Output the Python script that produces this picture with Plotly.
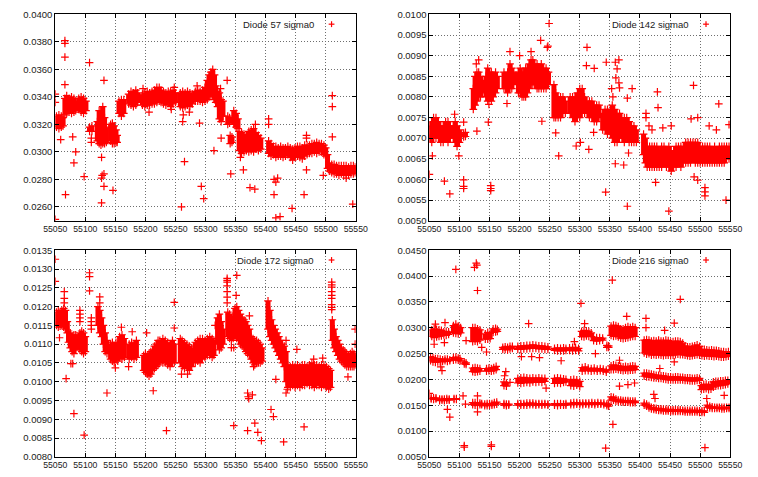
import plotly.graph_objects as go

# ---------------- data ----------------
x_ticks = [55050, 55100, 55150, 55200, 55250, 55300, 55350, 55400, 55450, 55500, 55550]

# Diode 57: dense daily ranges (day, low, high) and isolated points (day, value)
d57_bands = [
    (55052, 0.0318, 0.0326), (55056, 0.0317, 0.0327), (55060, 0.0318, 0.0326), (55063, 0.0319, 0.0325),
    (55066, 0.0327, 0.0339), (55069, 0.0328, 0.0341), (55073, 0.0329, 0.0339), (55077, 0.0328, 0.0340),
    (55081, 0.0329, 0.0339), (55084, 0.0330, 0.0337),
    (55089, 0.0331, 0.0339), (55093, 0.0329, 0.0340), (55097, 0.0328, 0.0339), (55101, 0.0330, 0.0337),
    (55107, 0.0315, 0.0318), (55111, 0.0315, 0.0319),
    (55120, 0.0308, 0.0322), (55123, 0.0306, 0.0330), (55126, 0.0305, 0.0330), (55129, 0.0306, 0.0333),
    (55132, 0.0306, 0.0325), (55135, 0.0307, 0.0318),
    (55142, 0.0308, 0.0320), (55145, 0.0306, 0.0321), (55148, 0.0306, 0.0319), (55151, 0.0307, 0.0316),
    (55153, 0.0307, 0.0312),
    (55156, 0.0328, 0.0337), (55160, 0.0326, 0.0338), (55164, 0.0328, 0.0338),
    (55172, 0.0335, 0.0342), (55176, 0.0334, 0.0344), (55180, 0.0333, 0.0343), (55184, 0.0334, 0.0345),
    (55187, 0.0336, 0.0343),
    (55195, 0.0334, 0.0342), (55199, 0.0333, 0.0343), (55203, 0.0334, 0.0344), (55207, 0.0334, 0.0343),
    (55211, 0.0335, 0.0344), (55215, 0.0335, 0.0345), (55219, 0.0336, 0.0347), (55223, 0.0337, 0.0347),
    (55226, 0.0336, 0.0345),
    (55230, 0.0335, 0.0344), (55234, 0.0334, 0.0343), (55238, 0.0336, 0.0344), (55242, 0.0333, 0.0344),
    (55246, 0.0335, 0.0345), (55250, 0.0336, 0.0343),
    (55258, 0.0333, 0.0343), (55262, 0.0332, 0.0344), (55266, 0.0333, 0.0343), (55270, 0.0334, 0.0344),
    (55274, 0.0333, 0.0343), (55278, 0.0335, 0.0342),
    (55283, 0.0337, 0.0344), (55287, 0.0337, 0.0345), (55291, 0.0337, 0.0344), (55295, 0.0336, 0.0345),
    (55299, 0.0337, 0.0347),
    (55303, 0.0338, 0.0352), (55306, 0.0340, 0.0356), (55309, 0.0341, 0.0358), (55312, 0.0342, 0.0360),
    (55315, 0.0338, 0.0356), (55317, 0.0336, 0.0348),
    (55320, 0.0333, 0.0344), (55323, 0.0324, 0.0343), (55326, 0.0322, 0.0338), (55329, 0.0326, 0.0337),
    (55337, 0.0320, 0.0326), (55340, 0.0321, 0.0325),
    (55341, 0.0306, 0.0312), (55344, 0.0307, 0.0311),
    (55347, 0.0320, 0.0330), (55351, 0.0318, 0.0328), (55354, 0.0317, 0.0324),
    (55356, 0.0301, 0.0315), (55360, 0.0299, 0.0314), (55364, 0.0300, 0.0313), (55368, 0.0301, 0.0312),
    (55372, 0.0300, 0.0315), (55376, 0.0301, 0.0316), (55380, 0.0300, 0.0317), (55384, 0.0302, 0.0314),
    (55388, 0.0301, 0.0312), (55392, 0.0302, 0.0310),
    (55405, 0.0299, 0.0308), (55409, 0.0297, 0.0306), (55413, 0.0298, 0.0304), (55417, 0.0296, 0.0304),
    (55421, 0.0297, 0.0303), (55425, 0.0297, 0.0304), (55429, 0.0296, 0.0303), (55433, 0.0297, 0.0303),
    (55437, 0.0298, 0.0304), (55441, 0.0296, 0.0303), (55445, 0.0294, 0.0302), (55449, 0.0296, 0.0303),
    (55453, 0.0297, 0.0304), (55457, 0.0296, 0.0304), (55461, 0.0295, 0.0303), (55465, 0.0297, 0.0305),
    (55469, 0.0298, 0.0305), (55473, 0.0299, 0.0305), (55477, 0.0299, 0.0306), (55481, 0.0300, 0.0306),
    (55485, 0.0299, 0.0307), (55489, 0.0300, 0.0306), (55493, 0.0300, 0.0306), (55497, 0.0298, 0.0305),
    (55500, 0.0297, 0.0303),
    (55503, 0.0288, 0.0298), (55506, 0.0286, 0.0292), (55510, 0.0285, 0.0291), (55514, 0.0284, 0.0291),
    (55518, 0.0284, 0.0290), (55522, 0.0283, 0.0290), (55526, 0.0284, 0.0290), (55530, 0.0283, 0.0290),
    (55534, 0.0284, 0.0290), (55538, 0.0283, 0.0289), (55542, 0.0284, 0.0290), (55546, 0.0284, 0.0290),
    (55549, 0.0285, 0.0289),
]
d57_points = [
    (55050, 0.0342), (55050, 0.0336), (55050, 0.0251), (55066, 0.0381), (55066, 0.0379), (55066, 0.0369),
    (55066, 0.0349), (55067, 0.0269), (55059, 0.0309), (55079, 0.0311), (55084, 0.0300), (55081, 0.0292),
    (55098, 0.0282), (55107, 0.0365), (55110, 0.0310), (55110, 0.0307), (55131, 0.0352), (55127, 0.0296),
    (55128, 0.0283), (55131, 0.0284), (55127, 0.0281), (55131, 0.0275), (55127, 0.0263), (55146, 0.0272),
    (55196, 0.0346), (55206, 0.0329), (55243, 0.0331), (55248, 0.0347), (55263, 0.0327), (55262, 0.0322),
    (55273, 0.0329), (55265, 0.0293), (55286, 0.0348), (55290, 0.0321), (55293, 0.0275), (55297, 0.0266),
    (55260, 0.0260), (55336, 0.0352), (55325, 0.0346), (55326, 0.0310), (55314, 0.0301), (55342, 0.0284),
    (55363, 0.0287), (55374, 0.0274), (55382, 0.0273), (55358, 0.0296), (55383, 0.0320), (55405, 0.0324),
    (55405, 0.0320), (55414, 0.0280), (55417, 0.0278), (55414, 0.0269), (55417, 0.0252), (55424, 0.0253),
    (55420, 0.0281), (55444, 0.0259), (55464, 0.0269), (55468, 0.0287), (55468, 0.0312), (55468, 0.0310),
    (55496, 0.0283), (55511, 0.0311), (55511, 0.0333), (55511, 0.0341), (55545, 0.0262), (55550, 0.0287),
    (55534, 0.0281),
]

# Diode 142
d142_bands = [
    (55051, 0.0070, 0.0073), (55054, 0.0069, 0.0074), (55057, 0.0070, 0.0075), (55061, 0.0070, 0.0075),
    (55065, 0.0070, 0.0074), (55069, 0.0069, 0.0073),
    (55073, 0.0069, 0.0073), (55077, 0.0070, 0.0074), (55081, 0.0069, 0.0074), (55085, 0.0070, 0.0073),
    (55090, 0.0070, 0.0073), (55093, 0.0069, 0.0074), (55096, 0.0068, 0.0073), (55100, 0.0069, 0.0072),
    (55107, 0.00703, 0.00712), (55110, 0.00704, 0.00714),
    (55123, 0.0077, 0.0082), (55126, 0.0078, 0.0085), (55129, 0.0079, 0.0086), (55132, 0.0080, 0.0086),
    (55135, 0.0080, 0.0085), (55138, 0.0081, 0.0084),
    (55144, 0.0080, 0.0085), (55147, 0.0079, 0.0087), (55150, 0.0080, 0.0086), (55153, 0.0079, 0.0086),
    (55156, 0.0080, 0.0085), (55160, 0.0081, 0.0086), (55163, 0.0082, 0.0085),
    (55174, 0.0082, 0.0086), (55177, 0.0082, 0.0085), (55180, 0.0081, 0.0086), (55184, 0.0082, 0.0088),
    (55187, 0.0082, 0.0087), (55190, 0.0083, 0.0086),
    (55198, 0.0081, 0.0086), (55201, 0.0081, 0.0087), (55204, 0.0080, 0.0086), (55207, 0.0080, 0.0086),
    (55210, 0.0080, 0.0087), (55213, 0.0081, 0.0087), (55216, 0.0082, 0.0088), (55219, 0.0083, 0.0089),
    (55222, 0.0083, 0.0089), (55225, 0.0083, 0.0088),
    (55229, 0.0082, 0.0088), (55232, 0.0082, 0.0087), (55236, 0.0082, 0.0088), (55240, 0.0082, 0.0087),
    (55244, 0.0082, 0.0087), (55248, 0.0083, 0.0086),
    (55257, 0.0075, 0.0083), (55260, 0.0075, 0.0081), (55264, 0.0075, 0.0080), (55268, 0.0075, 0.0080),
    (55272, 0.0076, 0.0080), (55276, 0.0076, 0.0079),
    (55284, 0.0076, 0.0080), (55288, 0.0075, 0.0080), (55292, 0.0074, 0.0080), (55296, 0.0075, 0.0081),
    (55300, 0.0075, 0.0082), (55304, 0.0076, 0.0082), (55308, 0.0076, 0.0080), (55312, 0.0076, 0.0079),
    (55316, 0.0075, 0.0079),
    (55320, 0.0075, 0.0079), (55324, 0.0074, 0.0078), (55328, 0.0074, 0.0078), (55332, 0.0075, 0.0078),
    (55338, 0.0072, 0.0076), (55342, 0.0072, 0.0077), (55346, 0.0071, 0.0077),
    (55351, 0.0071, 0.0077), (55354, 0.0070, 0.0078), (55358, 0.0069, 0.0077), (55362, 0.0069, 0.0076),
    (55366, 0.0070, 0.0076), (55370, 0.0070, 0.0075), (55374, 0.0069, 0.0075), (55378, 0.0070, 0.0075),
    (55382, 0.0069, 0.0074), (55386, 0.0069, 0.0073), (55390, 0.0069, 0.0073), (55394, 0.0069, 0.0072),
    (55406, 0.0066, 0.0071), (55409, 0.0064, 0.0070), (55412, 0.0063, 0.0068), (55416, 0.0063, 0.0068),
    (55420, 0.0063, 0.0068), (55424, 0.0063, 0.0068), (55428, 0.0063, 0.0068), (55432, 0.0063, 0.0067),
    (55436, 0.0063, 0.0068), (55440, 0.0064, 0.0068), (55444, 0.0063, 0.0067), (55448, 0.0063, 0.0068),
    (55452, 0.0062, 0.0067), (55456, 0.0063, 0.0067), (55460, 0.0063, 0.0068), (55464, 0.0064, 0.0068),
    (55468, 0.0063, 0.0068), (55472, 0.0064, 0.0068), (55476, 0.0064, 0.0069), (55480, 0.0064, 0.0069),
    (55484, 0.0064, 0.0069), (55488, 0.0065, 0.0069), (55492, 0.0064, 0.0069), (55496, 0.0064, 0.0069),
    (55500, 0.0064, 0.0068), (55504, 0.0064, 0.0068), (55508, 0.0064, 0.0068), (55512, 0.0064, 0.0068),
    (55516, 0.0064, 0.0068), (55520, 0.0064, 0.0067), (55524, 0.0064, 0.0068), (55528, 0.0064, 0.0067),
    (55532, 0.0064, 0.0068), (55536, 0.0064, 0.0068), (55540, 0.0064, 0.0068), (55544, 0.0065, 0.0068),
    (55548, 0.0065, 0.0068),
]
d142_points = [
    (55050, 0.00612), (55055, 0.00657), (55075, 0.00596), (55084, 0.00565), (55099, 0.00657),
    (55107, 0.00739), (55107, 0.00599), (55107, 0.00583), (55107, 0.00578), (55092, 0.00758),
    (55129, 0.00717), (55132, 0.00890), (55128, 0.00880), (55148, 0.00739), (55149, 0.00782),
    (55152, 0.00585), (55152, 0.00578), (55152, 0.00573), (55179, 0.00784), (55184, 0.00910),
    (55200, 0.00900), (55219, 0.00910), (55235, 0.00937), (55246, 0.00920), (55247, 0.00923),
    (55249, 0.00978), (55237, 0.00741), (55260, 0.00713), (55265, 0.00657), (55294, 0.00681),
    (55301, 0.00690), (55312, 0.00920), (55311, 0.00876), (55324, 0.00869), (55315, 0.00673),
    (55323, 0.00714), (55344, 0.00884), (55359, 0.00884), (55365, 0.00890), (55362, 0.00868),
    (55360, 0.00846), (55365, 0.00834), (55353, 0.00820), (55355, 0.00800), (55366, 0.00822),
    (55379, 0.00797), (55387, 0.00820), (55343, 0.00569), (55359, 0.00638), (55373, 0.00635),
    (55379, 0.00535), (55381, 0.00664), (55410, 0.00760), (55410, 0.00750), (55429, 0.00812),
    (55430, 0.00774), (55426, 0.00593), (55448, 0.00523), (55438, 0.00725), (55452, 0.00730),
    (55489, 0.00828), (55490, 0.00606), (55496, 0.00598), (55508, 0.00580), (55508, 0.00570),
    (55508, 0.00560), (55485, 0.00747), (55496, 0.00750), (55515, 0.00730), (55531, 0.00783),
    (55543, 0.00550), (55548, 0.00733), (55527, 0.00720), (55420, 0.00720), (55415, 0.00730),
]

# Diode 172
d172_bands = [
    (55052, 0.01150, 0.01185), (55055, 0.01145, 0.01190), (55058, 0.01148, 0.01185), (55061, 0.01150, 0.01190),
    (55064, 0.01145, 0.01195), (55067, 0.01140, 0.01190), (55070, 0.01130, 0.01160),
    (55072, 0.01105, 0.01135), (55075, 0.01090, 0.01130), (55078, 0.01080, 0.01120), (55081, 0.01075, 0.01125),
    (55084, 0.01085, 0.01125),
    (55091, 0.01085, 0.01130), (55094, 0.01080, 0.01135), (55097, 0.01075, 0.01130), (55100, 0.01080, 0.01120),
    (55121, 0.01150, 0.01200), (55124, 0.01130, 0.01190), (55127, 0.01120, 0.01170), (55130, 0.01100, 0.01150),
    (55133, 0.01080, 0.01130), (55136, 0.01075, 0.01110),
    (55142, 0.01060, 0.01100), (55145, 0.01055, 0.01105), (55148, 0.01050, 0.01095), (55151, 0.01060, 0.01105),
    (55154, 0.01055, 0.01100),
    (55157, 0.01065, 0.01120), (55161, 0.01060, 0.01125), (55165, 0.01065, 0.01115),
    (55173, 0.01060, 0.01100), (55177, 0.01065, 0.01105), (55181, 0.01060, 0.01100), (55185, 0.01065, 0.01110),
    (55197, 0.01030, 0.01070), (55200, 0.01025, 0.01075), (55203, 0.01020, 0.01070), (55206, 0.01015, 0.01075),
    (55209, 0.01020, 0.01080), (55212, 0.01030, 0.01085), (55215, 0.01035, 0.01095), (55218, 0.01040, 0.01100),
    (55221, 0.01045, 0.01110), (55224, 0.01050, 0.01110),
    (55229, 0.01050, 0.01115), (55233, 0.01050, 0.01110), (55237, 0.01045, 0.01105), (55241, 0.01040, 0.01100),
    (55245, 0.01050, 0.01110), (55248, 0.01050, 0.01100),
    (55258, 0.01050, 0.01115), (55261, 0.01040, 0.01110), (55265, 0.01035, 0.01105), (55269, 0.01040, 0.01100),
    (55273, 0.01030, 0.01095), (55277, 0.01040, 0.01090),
    (55283, 0.01050, 0.01105), (55287, 0.01055, 0.01110), (55291, 0.01050, 0.01115), (55295, 0.01060, 0.01115),
    (55299, 0.01065, 0.01110), (55303, 0.01070, 0.01115), (55307, 0.01070, 0.01120), (55311, 0.01065, 0.01115),
    (55314, 0.01070, 0.01110),
    (55320, 0.01100, 0.01170), (55323, 0.01085, 0.01180), (55326, 0.01090, 0.01160), (55329, 0.01100, 0.01140),
    (55337, 0.01120, 0.01185), (55340, 0.01115, 0.01180), (55343, 0.01110, 0.01170), (55346, 0.01115, 0.01175),
    (55349, 0.01120, 0.01195), (55352, 0.01115, 0.01200), (55355, 0.01110, 0.01190), (55358, 0.01100, 0.01180),
    (55361, 0.01095, 0.01170), (55364, 0.01090, 0.01165), (55367, 0.01080, 0.01160), (55370, 0.01075, 0.01150),
    (55373, 0.01070, 0.01140), (55376, 0.01060, 0.01120), (55379, 0.01050, 0.01115), (55382, 0.01045, 0.01110),
    (55385, 0.01050, 0.01110), (55388, 0.01050, 0.01105), (55391, 0.01050, 0.01100), (55394, 0.01055, 0.01090),
    (55404, 0.01140, 0.01215), (55407, 0.01120, 0.01190), (55410, 0.01110, 0.01165), (55413, 0.01100, 0.01150),
    (55416, 0.01090, 0.01140), (55419, 0.01080, 0.01130), (55422, 0.01070, 0.01120), (55425, 0.01060, 0.01110),
    (55428, 0.01050, 0.01100), (55431, 0.01040, 0.01095), (55434, 0.01000, 0.01080),
    (55437, 0.00985, 0.01045), (55441, 0.00985, 0.01040), (55445, 0.00990, 0.01045), (55449, 0.00985, 0.01040),
    (55453, 0.00990, 0.01045), (55457, 0.00985, 0.01040), (55461, 0.00990, 0.01045), (55465, 0.00990, 0.01045),
    (55469, 0.00995, 0.01040), (55473, 0.00990, 0.01045), (55477, 0.00990, 0.01050), (55481, 0.00985, 0.01045),
    (55485, 0.00990, 0.01045), (55489, 0.00990, 0.01040), (55493, 0.00985, 0.01045), (55497, 0.00990, 0.01045),
    (55501, 0.00985, 0.01040), (55505, 0.00980, 0.01035), (55508, 0.00985, 0.01030),
    (55511, 0.01110, 0.01165), (55514, 0.01090, 0.01140), (55517, 0.01080, 0.01120), (55520, 0.01070, 0.01110),
    (55523, 0.01060, 0.01100), (55526, 0.01055, 0.01090), (55529, 0.01050, 0.01085), (55532, 0.01045, 0.01080),
    (55535, 0.01040, 0.01075), (55538, 0.01040, 0.01070), (55541, 0.01040, 0.01075), (55544, 0.01040, 0.01080),
    (55547, 0.01040, 0.01075), (55549, 0.01045, 0.01070),
]
d172_points = [
    (55050, 0.01326), (55050, 0.01267), (55065, 0.01240), (55065, 0.01222), (55065, 0.01210),
    (55057, 0.01117), (55076, 0.01048), (55079, 0.01048), (55068, 0.01008), (55081, 0.00915),
    (55098, 0.00858), (55091, 0.01190), (55091, 0.01180), (55091, 0.01170), (55091, 0.01160),
    (55107, 0.01290), (55107, 0.01280), (55107, 0.01242), (55110, 0.01170), (55110, 0.01160),
    (55110, 0.01150), (55110, 0.01140), (55124, 0.01226), (55124, 0.01210), (55136, 0.00970),
    (55150, 0.01037), (55160, 0.01145), (55178, 0.01133), (55172, 0.01040), (55202, 0.01130),
    (55213, 0.00976), (55248, 0.01211), (55248, 0.01143), (55235, 0.00870), (55260, 0.01020),
    (55270, 0.01020), (55316, 0.01150), (55336, 0.01275), (55336, 0.01270), (55336, 0.01265),
    (55336, 0.01255), (55336, 0.01240), (55336, 0.01225), (55336, 0.01210), (55352, 0.01283),
    (55351, 0.01230), (55373, 0.01175), (55343, 0.01091), (55347, 0.01091), (55370, 0.00970),
    (55371, 0.00960), (55372, 0.00955), (55378, 0.00965), (55347, 0.00883), (55382, 0.00890),
    (55370, 0.00870), (55387, 0.00865), (55393, 0.00843), (55380, 0.01040), (55417, 0.01006),
    (55409, 0.00926), (55413, 0.00907), (55430, 0.00840), (55434, 0.01110), (55464, 0.00880),
    (55452, 0.01086), (55434, 0.00970), (55436, 0.00980), (55480, 0.01060), (55495, 0.01063),
    (55510, 0.01265), (55510, 0.01258), (55510, 0.01252), (55510, 0.01240), (55510, 0.01230),
    (55510, 0.01222), (55510, 0.01205), (55510, 0.01198), (55510, 0.01192),
    (55549, 0.01140), (55549, 0.01100), (55537, 0.01013),
]

# Diode 216 (three bands)
d216_bands = [
    # upper band
    (55054, 0.0283, 0.0296), (55058, 0.0281, 0.0298), (55062, 0.0282, 0.0297), (55066, 0.0283, 0.0296),
    (55070, 0.0284, 0.0295), (55074, 0.0286, 0.0292), (55078, 0.0285, 0.0293), (55082, 0.0287, 0.0292),
    (55090, 0.0290, 0.0304), (55094, 0.0289, 0.0307), (55098, 0.0288, 0.0303), (55102, 0.0290, 0.0300),
    (55122, 0.0273, 0.0300), (55126, 0.0274, 0.0300), (55130, 0.0273, 0.0298), (55134, 0.0276, 0.0296),
    (55143, 0.0278, 0.0288), (55147, 0.0278, 0.0291), (55151, 0.0279, 0.0289),
    (55156, 0.0291, 0.0298), (55160, 0.0292, 0.0299), (55163, 0.0293, 0.0297),
    (55172, 0.0258, 0.0262), (55176, 0.0258, 0.0263), (55180, 0.0257, 0.0262), (55184, 0.0259, 0.0264),
    (55188, 0.0260, 0.0264),
    (55197, 0.0258, 0.0264), (55202, 0.0258, 0.0265), (55207, 0.0259, 0.0265), (55212, 0.0259, 0.0266),
    (55217, 0.0260, 0.0266), (55222, 0.0260, 0.0267), (55227, 0.0260, 0.0266), (55232, 0.0259, 0.0265),
    (55237, 0.0259, 0.0265), (55242, 0.0258, 0.0264), (55247, 0.0258, 0.0263),
    (55258, 0.0256, 0.0260), (55263, 0.0255, 0.0261), (55268, 0.0255, 0.0260), (55273, 0.0255, 0.0261),
    (55277, 0.0256, 0.0260),
    (55283, 0.0256, 0.0261), (55288, 0.0255, 0.0262), (55293, 0.0256, 0.0262), (55298, 0.0255, 0.0260),
    (55303, 0.0283, 0.0293), (55307, 0.0282, 0.0295), (55311, 0.0284, 0.0294), (55315, 0.0283, 0.0293),
    (55319, 0.0283, 0.0290),
    (55323, 0.0275, 0.0282), (55328, 0.0274, 0.0281), (55333, 0.0275, 0.0281), (55338, 0.0276, 0.0280),
    (55345, 0.0262, 0.0266), (55348, 0.0262, 0.0265),
    (55352, 0.0285, 0.0303), (55356, 0.0283, 0.0305), (55360, 0.0284, 0.0304), (55364, 0.0282, 0.0302),
    (55368, 0.0280, 0.0298), (55372, 0.0279, 0.0298), (55376, 0.0280, 0.0300), (55380, 0.0281, 0.0302),
    (55384, 0.0282, 0.0300), (55388, 0.0283, 0.0302), (55392, 0.0283, 0.0300),
    (55407, 0.0251, 0.0276), (55411, 0.0249, 0.0277), (55415, 0.0250, 0.0276), (55419, 0.0247, 0.0274),
    (55423, 0.0248, 0.0275), (55427, 0.0247, 0.0274), (55431, 0.0248, 0.0276), (55435, 0.0247, 0.0274),
    (55439, 0.0246, 0.0274), (55443, 0.0247, 0.0276), (55447, 0.0247, 0.0275), (55451, 0.0246, 0.0272),
    (55455, 0.0247, 0.0273), (55459, 0.0248, 0.0274), (55463, 0.0249, 0.0274), (55467, 0.0248, 0.0273),
    (55471, 0.0248, 0.0270), (55475, 0.0247, 0.0265), (55479, 0.0246, 0.0263), (55483, 0.0245, 0.0263),
    (55487, 0.0246, 0.0264), (55491, 0.0247, 0.0265), (55495, 0.0248, 0.0267), (55499, 0.0247, 0.0264),
    (55503, 0.0246, 0.0258), (55507, 0.0245, 0.0258), (55511, 0.0246, 0.0257), (55515, 0.0245, 0.0256),
    (55519, 0.0245, 0.0257), (55523, 0.0244, 0.0256), (55527, 0.0245, 0.0256), (55531, 0.0244, 0.0255),
    (55535, 0.0243, 0.0254), (55539, 0.0243, 0.0254), (55543, 0.0244, 0.0253), (55547, 0.0245, 0.0254),
    # middle band
    (55052, 0.0236, 0.0244), (55056, 0.0234, 0.0242), (55060, 0.0233, 0.0240), (55064, 0.0234, 0.0240),
    (55068, 0.0234, 0.0239), (55072, 0.0235, 0.0238), (55076, 0.0236, 0.0239), (55080, 0.0235, 0.0239),
    (55084, 0.0236, 0.0238),
    (55090, 0.0237, 0.0242), (55094, 0.0238, 0.0243), (55098, 0.0237, 0.0241), (55101, 0.0236, 0.0240),
    (55108, 0.0230, 0.0234), (55111, 0.0229, 0.0232),
    (55122, 0.0215, 0.0222), (55126, 0.0214, 0.0223), (55130, 0.0215, 0.0222), (55134, 0.0216, 0.0221),
    (55145, 0.0216, 0.0221), (55149, 0.0217, 0.0222), (55153, 0.0216, 0.0221), (55157, 0.0217, 0.0223),
    (55161, 0.0219, 0.0225),
    (55174, 0.0188, 0.0195), (55178, 0.0187, 0.0193),
    (55197, 0.0193, 0.0202), (55202, 0.0192, 0.0203), (55207, 0.0193, 0.0204), (55212, 0.0194, 0.0203),
    (55217, 0.0193, 0.0202), (55222, 0.0195, 0.0203), (55227, 0.0194, 0.0202), (55232, 0.0195, 0.0203),
    (55237, 0.0194, 0.0202), (55242, 0.0196, 0.0202),
    (55258, 0.0192, 0.0202), (55263, 0.0193, 0.0203), (55268, 0.0192, 0.0202), (55273, 0.0194, 0.0201),
    (55277, 0.0195, 0.0200),
    (55285, 0.0188, 0.0199), (55290, 0.0187, 0.0200), (55295, 0.0189, 0.0199), (55300, 0.0186, 0.0196),
    (55304, 0.0216, 0.0223), (55309, 0.0217, 0.0224), (55314, 0.0217, 0.0222), (55319, 0.0216, 0.0221),
    (55324, 0.0217, 0.0222), (55329, 0.0216, 0.0220), (55334, 0.0217, 0.0221), (55339, 0.0216, 0.0220),
    (55344, 0.0214, 0.0218),
    (55352, 0.0219, 0.0226), (55356, 0.0219, 0.0228), (55360, 0.0220, 0.0227), (55364, 0.0219, 0.0226),
    (55368, 0.0218, 0.0225), (55372, 0.0217, 0.0224), (55376, 0.0218, 0.0225), (55380, 0.0217, 0.0224),
    (55384, 0.0218, 0.0225), (55388, 0.0218, 0.0226), (55392, 0.0219, 0.0225),
    (55407, 0.0206, 0.0212), (55411, 0.0205, 0.0212), (55415, 0.0205, 0.0211), (55419, 0.0204, 0.0210),
    (55423, 0.0203, 0.0209), (55427, 0.0203, 0.0208), (55431, 0.0202, 0.0208), (55435, 0.0202, 0.0207),
    (55439, 0.0201, 0.0207), (55443, 0.0200, 0.0206), (55447, 0.0199, 0.0205), (55451, 0.0199, 0.0205),
    (55455, 0.0199, 0.0204), (55459, 0.0199, 0.0205), (55463, 0.0199, 0.0205), (55467, 0.0199, 0.0204),
    (55471, 0.0199, 0.0204), (55475, 0.0198, 0.0203), (55479, 0.0198, 0.0203), (55483, 0.0197, 0.0203),
    (55487, 0.0197, 0.0202), (55491, 0.0197, 0.0202), (55495, 0.0198, 0.0203), (55499, 0.0198, 0.0202),
    (55502, 0.0180, 0.0188), (55506, 0.0181, 0.0190), (55510, 0.0182, 0.0191), (55514, 0.0180, 0.0189),
    (55518, 0.0181, 0.0190), (55522, 0.0185, 0.0195), (55526, 0.0187, 0.0196), (55530, 0.0188, 0.0196),
    (55534, 0.0188, 0.0197), (55538, 0.0189, 0.0197), (55542, 0.0190, 0.0198), (55546, 0.0191, 0.0198),
    # lower band
    (55053, 0.0162, 0.0164), (55057, 0.0161, 0.0164), (55061, 0.0162, 0.0164),
    (55067, 0.0159, 0.0162), (55071, 0.0160, 0.0162), (55075, 0.0159, 0.0162), (55079, 0.0160, 0.0163),
    (55083, 0.0160, 0.0162), (55091, 0.0161, 0.0163), (55095, 0.0161, 0.0163),
    (55122, 0.0151, 0.0155), (55126, 0.0150, 0.0155), (55130, 0.0150, 0.0154), (55134, 0.0151, 0.0154),
    (55137, 0.0151, 0.0153),
    (55142, 0.0149, 0.0152), (55146, 0.0149, 0.0153), (55150, 0.0150, 0.0153), (55154, 0.0150, 0.0153),
    (55158, 0.0151, 0.0155), (55162, 0.0152, 0.0156),
    (55174, 0.0150, 0.0153), (55178, 0.0149, 0.0152), (55182, 0.0150, 0.0152),
    (55197, 0.0150, 0.0153), (55202, 0.0150, 0.0153), (55207, 0.0150, 0.0153), (55212, 0.0150, 0.0154),
    (55217, 0.0151, 0.0154), (55222, 0.0151, 0.0154), (55227, 0.0150, 0.0153), (55232, 0.0151, 0.0153),
    (55237, 0.0150, 0.0153), (55242, 0.0151, 0.0153), (55247, 0.0150, 0.0152),
    (55258, 0.0150, 0.0153), (55263, 0.0149, 0.0153), (55268, 0.0150, 0.0153), (55273, 0.0150, 0.0152),
    (55277, 0.0150, 0.0153),
    (55285, 0.0151, 0.0154), (55290, 0.0151, 0.0155), (55295, 0.0152, 0.0155), (55300, 0.0151, 0.0154),
    (55305, 0.0151, 0.0154), (55310, 0.0152, 0.0154), (55315, 0.0151, 0.0154), (55320, 0.0152, 0.0155),
    (55325, 0.0151, 0.0154), (55330, 0.0152, 0.0155), (55335, 0.0152, 0.0154), (55340, 0.0151, 0.0154),
    (55345, 0.0149, 0.0152), (55348, 0.0148, 0.0151),
    (55352, 0.0160, 0.0166), (55356, 0.0160, 0.0165), (55360, 0.0158, 0.0162), (55364, 0.0157, 0.0160),
    (55368, 0.0157, 0.0160), (55372, 0.0156, 0.0159), (55376, 0.0156, 0.0159), (55380, 0.0156, 0.0159),
    (55384, 0.0155, 0.0158), (55388, 0.0155, 0.0158), (55392, 0.0155, 0.0158),
    (55407, 0.0150, 0.0154), (55411, 0.0148, 0.0152), (55415, 0.0145, 0.0149), (55419, 0.0143, 0.0146),
    (55423, 0.0142, 0.0145), (55427, 0.0141, 0.0144), (55431, 0.0140, 0.0143), (55435, 0.0140, 0.0143),
    (55439, 0.0139, 0.0142), (55443, 0.0139, 0.0142), (55447, 0.0139, 0.0142), (55451, 0.0138, 0.0141),
    (55455, 0.0138, 0.0141), (55459, 0.0138, 0.0141), (55463, 0.0138, 0.0141), (55467, 0.0138, 0.0141),
    (55471, 0.0138, 0.0140), (55475, 0.0137, 0.0140), (55479, 0.0137, 0.0140), (55483, 0.0137, 0.0140),
    (55487, 0.0137, 0.0140), (55491, 0.0137, 0.0140), (55495, 0.0137, 0.0140), (55499, 0.0136, 0.0139),
    (55503, 0.0136, 0.0139), (55507, 0.0136, 0.0139),
    (55512, 0.0146, 0.0150), (55516, 0.0145, 0.0148), (55520, 0.0144, 0.0147), (55524, 0.0144, 0.0146),
    (55528, 0.0144, 0.0146), (55532, 0.0144, 0.0146), (55536, 0.0143, 0.0146), (55540, 0.0143, 0.0146),
    (55544, 0.0144, 0.0146), (55548, 0.0144, 0.0146),
]
d216_points = [
    (55050, 0.0173), (55094, 0.0413), (55128, 0.0425), (55129, 0.0421), (55125, 0.0417), (55130, 0.0372),
    (55215, 0.0308), (55076, 0.0310), (55060, 0.0307), (55058, 0.0268), (55075, 0.0271), (55069, 0.0224),
    (55071, 0.0217), (55080, 0.0142), (55084, 0.0127), (55108, 0.0072), (55108, 0.0069), (55153, 0.0073),
    (55153, 0.0070), (55111, 0.0275), (55137, 0.0262), (55145, 0.0253), (55175, 0.0207), (55184, 0.0194),
    (55177, 0.0215), (55106, 0.0168), (55110, 0.0152), (55130, 0.0168), (55130, 0.0137), (55203, 0.0244),
    (55220, 0.0244), (55233, 0.0242), (55244, 0.0183), (55269, 0.0236), (55291, 0.0273), (55302, 0.0347),
    (55308, 0.0308), (55326, 0.0250), (55354, 0.0392), (55355, 0.0113), (55343, 0.0067), (55378, 0.0322),
    (55366, 0.0237), (55366, 0.0187), (55380, 0.0190), (55391, 0.0193), (55410, 0.0318), (55410, 0.0300),
    (55457, 0.0309), (55441, 0.0295), (55467, 0.0355), (55457, 0.0234), (55433, 0.0221), (55423, 0.0171),
    (55425, 0.0163), (55511, 0.0163), (55508, 0.0068), (55540, 0.0169),
]

titles = ["Diode 57 sigma0", "Diode 142 sigma0", "Diode 172 sigma0", "Diode 216 sigma0"]
y_ranges = [(0.0250, 0.0400), (0.0050, 0.0100), (0.0080, 0.0135), (0.0050, 0.0450)]
y_tickvals = [
    [0.026, 0.028, 0.030, 0.032, 0.034, 0.036, 0.038, 0.040],
    [0.0050, 0.0055, 0.0060, 0.0065, 0.0070, 0.0075, 0.0080, 0.0085, 0.0090, 0.0095, 0.0100],
    [0.0080, 0.0085, 0.0090, 0.0095, 0.0100, 0.0105, 0.0110, 0.0115, 0.0120, 0.0125, 0.0130, 0.0135],
    [0.005, 0.010, 0.015, 0.020, 0.025, 0.030, 0.035, 0.040, 0.045],
]
all_bands = [d57_bands, d142_bands, d172_bands, d216_bands]
all_points = [d57_points, d142_points, d172_points, d216_points]

# ---------------- layout geometry (pixels of the 758x477 canvas) ----------------
W, H = 758, 477
boxes = [  # left, right, top, bottom in px
    (44.7, 355.0, 8.6, 219.75),
    (431.0, 741.7, 8.6, 219.75),
    (44.7, 355.0, 250.0, 461.5),
    (431.0, 741.7, 250.0, 461.5),
]
RED = "#ff0000"
TXT = "#1a1a1a"
fig = go.Figure()
layout = dict(
    width=W, height=H, margin=dict(l=0, r=0, t=0, b=0),
    paper_bgcolor="white", plot_bgcolor="white", showlegend=False,
    font=dict(family="Liberation Sans, Arial, sans-serif", size=9.5, color=TXT),
)
annotations, shapes = [], []
for i in range(4):
    sfx = "" if i == 0 else str(i + 1)
    xa, ya = "x" + sfx, "y" + sfx
    l, r, t, b = boxes[i]
    bx, blo, bhi = [], [], []
    lx, ly = [], []
    for d, lo, hi in all_bands[i]:
        lx += [d, d, None]
        ly += [lo, hi, None]
        bx.append(d); blo.append(lo); bhi.append(hi)
    fig.add_trace(go.Scatter(x=lx, y=ly, mode="lines", xaxis=xa, yaxis=ya,
                             line=dict(color=RED, width=5), hoverinfo="skip"))
    px = bx + bx + [p[0] for p in all_points[i]]
    py = blo + bhi + [p[1] for p in all_points[i]]
    fig.add_trace(go.Scatter(x=px, y=py, mode="markers", xaxis=xa, yaxis=ya,
                             marker=dict(symbol="cross-thin", size=5.5, color=RED,
                                         line=dict(color=RED, width=1.2))))
    common = dict(showline=True, linecolor="black", linewidth=1, mirror="ticks",
                  ticks="inside", ticklen=4, tickcolor="black", tickwidth=1,
                  showgrid=True, gridcolor="#6e6e6e", griddash="1px,2px", gridwidth=1,
                  zeroline=False)
    layout["xaxis" + sfx] = dict(domain=[l / W, r / W], range=[55050, 55550], anchor=ya,
                                 tickvals=x_ticks, ticktext=[str(v) for v in x_ticks],
                                 tickfont=dict(size=8.7), **common)
    layout["yaxis" + sfx] = dict(domain=[1 - b / H, 1 - t / H], range=list(y_ranges[i]), anchor=xa,
                                 tickvals=y_tickvals[i], ticktext=["%.4f" % v for v in y_tickvals[i]],
                                 tickfont=dict(size=9.5), **common)
    # key (gnuplot style: text then sample symbol at the right)
    ky = t + 10
    kx = r - 25
    annotations.append(dict(xref="paper", yref="paper", x=(kx - 17) / W, y=1 - ky / H,
                            xanchor="right", yanchor="middle", showarrow=False, borderpad=0,
                            text=titles[i], font=dict(size=9.5, color=TXT)))
    shapes.append(dict(type="line", xref="paper", yref="paper", x0=(kx - 3) / W, x1=(kx + 3) / W,
                       y0=1 - ky / H, y1=1 - ky / H, line=dict(color=RED, width=1.2)))
    shapes.append(dict(type="line", xref="paper", yref="paper", x0=kx / W, x1=kx / W,
                       y0=1 - (ky - 3) / H, y1=1 - (ky + 3) / H, line=dict(color=RED, width=1.2)))
layout["annotations"] = annotations
layout["shapes"] = shapes
fig.update_layout(**layout)
fig.write_html("out.html")
